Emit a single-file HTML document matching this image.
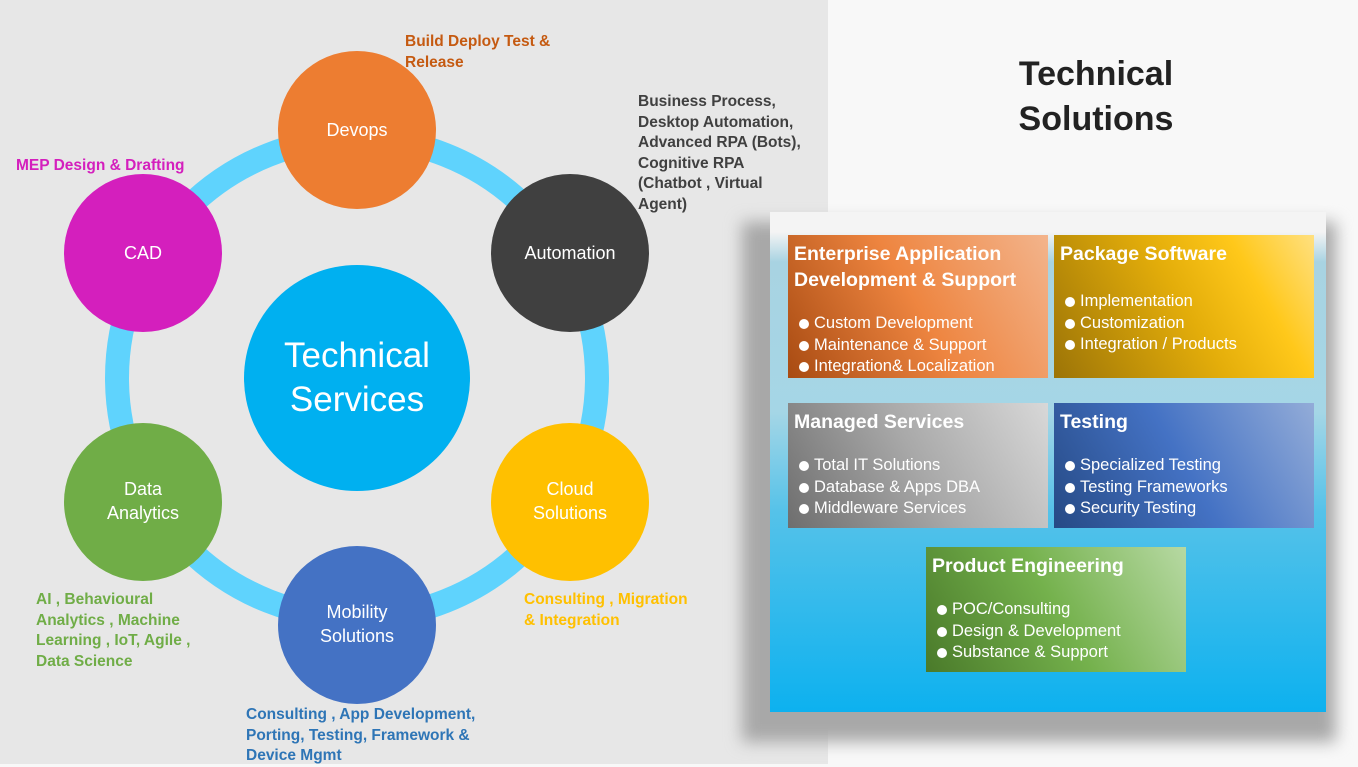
<!DOCTYPE html>
<html><head><style>
body{margin:0;width:1358px;height:764px;overflow:hidden;font-family:"Liberation Sans",sans-serif;position:relative;background:#f8f8f8}
.l{position:absolute;left:0;top:0;width:828px;height:764px;background:#e7e7e7}
.t{position:absolute;font-weight:bold;font-size:15.5px;line-height:20.5px}
.box{position:absolute;color:#fff;box-sizing:border-box;padding:6px 6px}
.box h3{margin:0;font-size:19.5px;line-height:26px;font-weight:bold}
.box ul{margin:0;padding:0;list-style:none;font-size:16.5px;line-height:21.5px}
.box li:before{content:"";display:inline-block;width:10px;height:10px;border-radius:50%;background:#fff;margin:0 5px 0 5px;vertical-align:-1px}
</style></head><body>
<div class="l"></div>
<svg style="position:absolute;left:0;top:0" width="828" height="764">
<circle cx="357" cy="378" r="240" fill="none" stroke="#5fd3fd" stroke-width="24"/>
<circle cx="357" cy="378" r="113" fill="#00b0f0"/>
<g font-family="Liberation Sans" fill="#fff" text-anchor="middle">
<circle cx="357" cy="130" r="79" fill="#ed7d31"/><text x="357" y="136" font-size="18">Devops</text>
<circle cx="570" cy="253" r="79" fill="#404040"/><text x="570" y="259" font-size="18">Automation</text>
<circle cx="570" cy="502" r="79" fill="#ffc000"/><text x="570" y="495" font-size="18">Cloud</text><text x="570" y="519" font-size="18">Solutions</text>
<circle cx="357" cy="625" r="79" fill="#4472c4"/><text x="357" y="618" font-size="18">Mobility</text><text x="357" y="642" font-size="18">Solutions</text>
<circle cx="143" cy="502" r="79" fill="#70ad47"/><text x="143" y="495" font-size="18">Data</text><text x="143" y="519" font-size="18">Analytics</text>
<circle cx="143" cy="253" r="79" fill="#d41fbd"/><text x="143" y="259" font-size="18">CAD</text>
<text x="357" y="367" font-size="35">Technical</text><text x="357" y="411" font-size="35">Services</text>
</g></svg>
<div class="t" style="left:405px;top:32px;color:#c55a11">Build Deploy Test &amp;<br>Release</div>
<div class="t" style="left:638px;top:92px;color:#404040">Business Process,<br>Desktop Automation,<br>Advanced RPA (Bots),<br>Cognitive RPA<br>(Chatbot , Virtual<br>Agent)</div>
<div class="t" style="left:16px;top:156px;color:#d41fbd">MEP Design &amp; Drafting</div>
<div class="t" style="left:524px;top:590px;color:#ffc000">Consulting , Migration<br>&amp; Integration</div>
<div class="t" style="left:36px;top:590px;color:#70ad47">AI , Behavioural<br>Analytics , Machine<br>Learning , IoT, Agile ,<br>Data Science</div>
<div class="t" style="left:246px;top:705px;color:#2e75b6">Consulting , App Development,<br>Porting, Testing, Framework &amp;<br>Device Mgmt</div>
<div style="position:absolute;left:960px;top:52px;width:272px;text-align:center;font-size:34px;font-weight:bold;line-height:45px;color:#222">Technical<br>Solutions</div>
<div style="position:absolute;left:742px;top:222px;width:594px;height:520px;background:#a8a8a8;filter:blur(8px)"></div>
<div style="position:absolute;left:770px;top:212px;width:556px;height:500px;background:linear-gradient(#f4f4f4 0,#f4f4f4 4%,#a8d3e2 10%,#a5d6e6 40%,#55c2e9 60%,#0db1ef 100%)"></div>
<div class="box" style="left:788px;top:235px;width:260px;height:143px;background:linear-gradient(60deg,#a84b12,#ee8540 50%,#f3b48c)"><h3>Enterprise Application<br>Development &amp; Support</h3><ul style="margin-top:20px"><li>Custom Development</li><li>Maintenance &amp; Support</li><li>Integration&amp; Localization</li></ul></div>
<div class="box" style="left:1054px;top:235px;width:260px;height:143px;background:linear-gradient(60deg,#9c7407,#e3ad0a 50%,#ffc81a 75%,#ffe080)"><h3>Package Software</h3><ul style="margin-top:24px"><li>Implementation</li><li>Customization</li><li>Integration / Products</li></ul></div>
<div class="box" style="left:788px;top:403px;width:260px;height:125px;background:linear-gradient(60deg,#6e6e6e,#a8a8a8 50%,#d8d8d8)"><h3>Managed Services</h3><ul style="margin-top:20px"><li>Total IT Solutions</li><li>Database &amp; Apps DBA</li><li>Middleware Services</li></ul></div>
<div class="box" style="left:1054px;top:403px;width:260px;height:125px;background:linear-gradient(60deg,#264a85,#4472c4 50%,#93acd8)"><h3>Testing</h3><ul style="margin-top:20px"><li>Specialized Testing</li><li>Testing Frameworks</li><li>Security Testing</li></ul></div>
<div class="box" style="left:926px;top:547px;width:260px;height:125px;background:linear-gradient(60deg,#4a7a2a,#74b14c 50%,#b7d9a3)"><h3>Product Engineering</h3><ul style="margin-top:20px"><li>POC/Consulting</li><li>Design &amp; Development</li><li>Substance &amp; Support</li></ul></div>
</body></html>
